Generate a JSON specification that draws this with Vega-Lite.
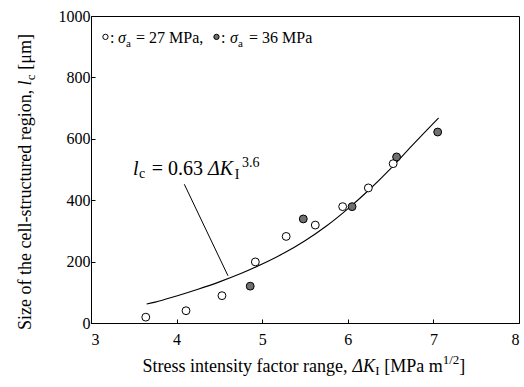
{
  "$schema": "https://vega.github.io/schema/vega-lite/v6.json",
  "width": 428,
  "height": 307,
  "autosize": {"type": "none"},
  "padding": {"left": 91, "top": 16, "right": 5, "bottom": 64},
  "background": "white",
  "config": {
    "font": "Liberation Serif",
    "view": {"stroke": "black", "strokeWidth": 1},
    "axis": {
      "domainColor": "black", "tickColor": "black", "labelColor": "black",
      "labelFont": "Liberation Serif", "labelFontSize": 16, "grid": false,
      "tickSize": -4, "title": null
    },
    "text": {"font": "Liberation Serif", "color": "black", "align": "left", "baseline": "alphabetic"}
  },
  "data": {"values": [{}]},
  "layer": [
    {
      "data": {"values": [
        {"dk": 3.65, "lc": 62}, {"dk": 3.75, "lc": 68}, {"dk": 4.0, "lc": 88},
        {"dk": 4.25, "lc": 110}, {"dk": 4.5, "lc": 134}, {"dk": 4.75, "lc": 161},
        {"dk": 5.0, "lc": 192}, {"dk": 5.25, "lc": 227}, {"dk": 5.5, "lc": 268},
        {"dk": 5.75, "lc": 316}, {"dk": 6.0, "lc": 372}, {"dk": 6.25, "lc": 434},
        {"dk": 6.5, "lc": 503}, {"dk": 6.75, "lc": 578}, {"dk": 7.06, "lc": 668}
      ]},
      "mark": {"type": "line", "color": "black", "strokeWidth": 1.1, "interpolate": "monotone"},
      "encoding": {
        "x": {"field": "dk", "type": "quantitative", "scale": {"domain": [3, 8], "nice": false},
              "axis": {"values": [3, 4, 5, 6, 7, 8], "format": "d", "labelPadding": 12,
                       "labelFont": "Liberation Serif", "labelFontSize": 16, "tickSize": -4}},
        "y": {"field": "lc", "type": "quantitative", "scale": {"domain": [0, 1000], "nice": false},
              "axis": {"values": [0, 200, 400, 600, 800, 1000], "format": "d", "labelPadding": 5,
                       "labelFont": "Liberation Serif", "labelFontSize": 16, "tickSize": -4}}
      }
    },
    {
      "data": {"values": [
        {"dk": 3.64, "lc": 19, "stress": "27 MPa"},
        {"dk": 4.11, "lc": 40, "stress": "27 MPa"},
        {"dk": 4.53, "lc": 89, "stress": "27 MPa"},
        {"dk": 4.92, "lc": 199, "stress": "27 MPa"},
        {"dk": 5.28, "lc": 282, "stress": "27 MPa"},
        {"dk": 5.62, "lc": 319, "stress": "27 MPa"},
        {"dk": 5.94, "lc": 379, "stress": "27 MPa"},
        {"dk": 6.24, "lc": 440, "stress": "27 MPa"},
        {"dk": 6.53, "lc": 519, "stress": "27 MPa"},
        {"dk": 4.86, "lc": 120, "stress": "36 MPa"},
        {"dk": 5.48, "lc": 339, "stress": "36 MPa"},
        {"dk": 6.05, "lc": 379, "stress": "36 MPa"},
        {"dk": 6.57, "lc": 541, "stress": "36 MPa"},
        {"dk": 7.05, "lc": 622, "stress": "36 MPa"}
      ]},
      "mark": {"type": "point", "shape": "circle", "filled": true, "size": 62, "stroke": "black", "strokeWidth": 1, "opacity": 1},
      "encoding": {
        "x": {"field": "dk", "type": "quantitative"},
        "y": {"field": "lc", "type": "quantitative"},
        "fill": {"field": "stress", "type": "nominal", "scale": {"domain": ["27 MPa", "36 MPa"], "range": ["white", "#707070"]}, "legend": null}
      }
    },
    {
      "mark": {"type": "rule", "color": "black", "strokeWidth": 1},
      "encoding": {
        "x": {"datum": 4.09, "type": "quantitative"}, "y": {"datum": 452, "type": "quantitative"},
        "x2": {"datum": 4.6}, "y2": {"datum": 154}
      }
    },
    {
      "mark": {"type": "point", "shape": "circle", "filled": true, "fill": "white", "stroke": "black", "strokeWidth": 1, "size": 28, "opacity": 1},
      "encoding": {"x": {"datum": 3.169, "type": "quantitative"}, "y": {"datum": 932, "type": "quantitative"}}
    },
    {
      "mark": {"type": "point", "shape": "circle", "filled": true, "fill": "#707070", "stroke": "black", "strokeWidth": 1, "size": 28, "opacity": 1},
      "encoding": {"x": {"datum": 4.466, "type": "quantitative"}, "y": {"datum": 932, "type": "quantitative"}}
    },
    {"mark": {"type": "text", "text": ":", "fontSize": 16},
     "encoding": {"x": {"datum": 3.222, "type": "quantitative"}, "y": {"datum": 912, "type": "quantitative"}}},
    {"mark": {"type": "text", "text": "σ", "fontSize": 16, "fontStyle": "italic"},
     "encoding": {"x": {"datum": 3.315, "type": "quantitative"}, "y": {"datum": 912, "type": "quantitative"}}},
    {"mark": {"type": "text", "text": "a", "fontSize": 11},
     "encoding": {"x": {"datum": 3.409, "type": "quantitative"}, "y": {"datum": 900, "type": "quantitative"}}},
    {"mark": {"type": "text", "text": "= 27 MPa,", "fontSize": 16},
     "encoding": {"x": {"datum": 3.526, "type": "quantitative"}, "y": {"datum": 912, "type": "quantitative"}}},
    {"mark": {"type": "text", "text": ":", "fontSize": 16},
     "encoding": {"x": {"datum": 4.519, "type": "quantitative"}, "y": {"datum": 912, "type": "quantitative"}}},
    {"mark": {"type": "text", "text": "σ", "fontSize": 16, "fontStyle": "italic"},
     "encoding": {"x": {"datum": 4.624, "type": "quantitative"}, "y": {"datum": 912, "type": "quantitative"}}},
    {"mark": {"type": "text", "text": "a", "fontSize": 11},
     "encoding": {"x": {"datum": 4.717, "type": "quantitative"}, "y": {"datum": 900, "type": "quantitative"}}},
    {"mark": {"type": "text", "text": "= 36 MPa", "fontSize": 16},
     "encoding": {"x": {"datum": 4.846, "type": "quantitative"}, "y": {"datum": 912, "type": "quantitative"}}},
    {"mark": {"type": "text", "text": "l", "fontSize": 20, "fontStyle": "italic"},
     "encoding": {"x": {"datum": 3.491, "type": "quantitative"}, "y": {"datum": 482, "type": "quantitative"}}},
    {"mark": {"type": "text", "text": "c", "fontSize": 14},
     "encoding": {"x": {"datum": 3.56, "type": "quantitative"}, "y": {"datum": 471, "type": "quantitative"}}},
    {"mark": {"type": "text", "text": "= 0.63", "fontSize": 20},
     "encoding": {"x": {"datum": 3.71, "type": "quantitative"}, "y": {"datum": 482, "type": "quantitative"}}},
    {"mark": {"type": "text", "text": "ΔK", "fontSize": 20, "fontStyle": "italic"},
     "encoding": {"x": {"datum": 4.367, "type": "quantitative"}, "y": {"datum": 482, "type": "quantitative"}}},
    {"mark": {"type": "text", "text": "I", "fontSize": 14},
     "encoding": {"x": {"datum": 4.68, "type": "quantitative"}, "y": {"datum": 469, "type": "quantitative"}}},
    {"mark": {"type": "text", "text": "3.6", "fontSize": 14},
     "encoding": {"x": {"datum": 4.765, "type": "quantitative"}, "y": {"datum": 508, "type": "quantitative"}}},
    {"mark": {"type": "text", "text": "Stress intensity factor range,", "fontSize": 18},
     "encoding": {"x": {"datum": 3.602, "type": "quantitative"}, "y": {"datum": -159, "type": "quantitative"}}},
    {"mark": {"type": "text", "text": "ΔK", "fontSize": 18, "fontStyle": "italic"},
     "encoding": {"x": {"datum": 6.054, "type": "quantitative"}, "y": {"datum": -159, "type": "quantitative"}}},
    {"mark": {"type": "text", "text": "I", "fontSize": 13},
     "encoding": {"x": {"datum": 6.32, "type": "quantitative"}, "y": {"datum": -170, "type": "quantitative"}}},
    {"mark": {"type": "text", "text": "[MPa m", "fontSize": 18},
     "encoding": {"x": {"datum": 6.426, "type": "quantitative"}, "y": {"datum": -159, "type": "quantitative"}}},
    {"mark": {"type": "text", "text": "1/2", "fontSize": 13},
     "encoding": {"x": {"datum": 7.109, "type": "quantitative"}, "y": {"datum": -133, "type": "quantitative"}}},
    {"mark": {"type": "text", "text": "]", "fontSize": 18},
     "encoding": {"x": {"datum": 7.303, "type": "quantitative"}, "y": {"datum": -159, "type": "quantitative"}}},
    {"mark": {"type": "text", "text": "Size of the cell-structured region,", "fontSize": 18, "angle": 270},
     "encoding": {"x": {"datum": 2.299, "type": "quantitative"}, "y": {"datum": -23, "type": "quantitative"}}},
    {"mark": {"type": "text", "text": "l", "fontSize": 18, "fontStyle": "italic", "angle": 270},
     "encoding": {"x": {"datum": 2.299, "type": "quantitative"}, "y": {"datum": 774, "type": "quantitative"}}},
    {"mark": {"type": "text", "text": "c", "fontSize": 13, "angle": 270},
     "encoding": {"x": {"datum": 2.34, "type": "quantitative"}, "y": {"datum": 791, "type": "quantitative"}}},
    {"mark": {"type": "text", "text": "[μm]", "fontSize": 18, "angle": 270},
     "encoding": {"x": {"datum": 2.299, "type": "quantitative"}, "y": {"datum": 825, "type": "quantitative"}}}
  ]
}
